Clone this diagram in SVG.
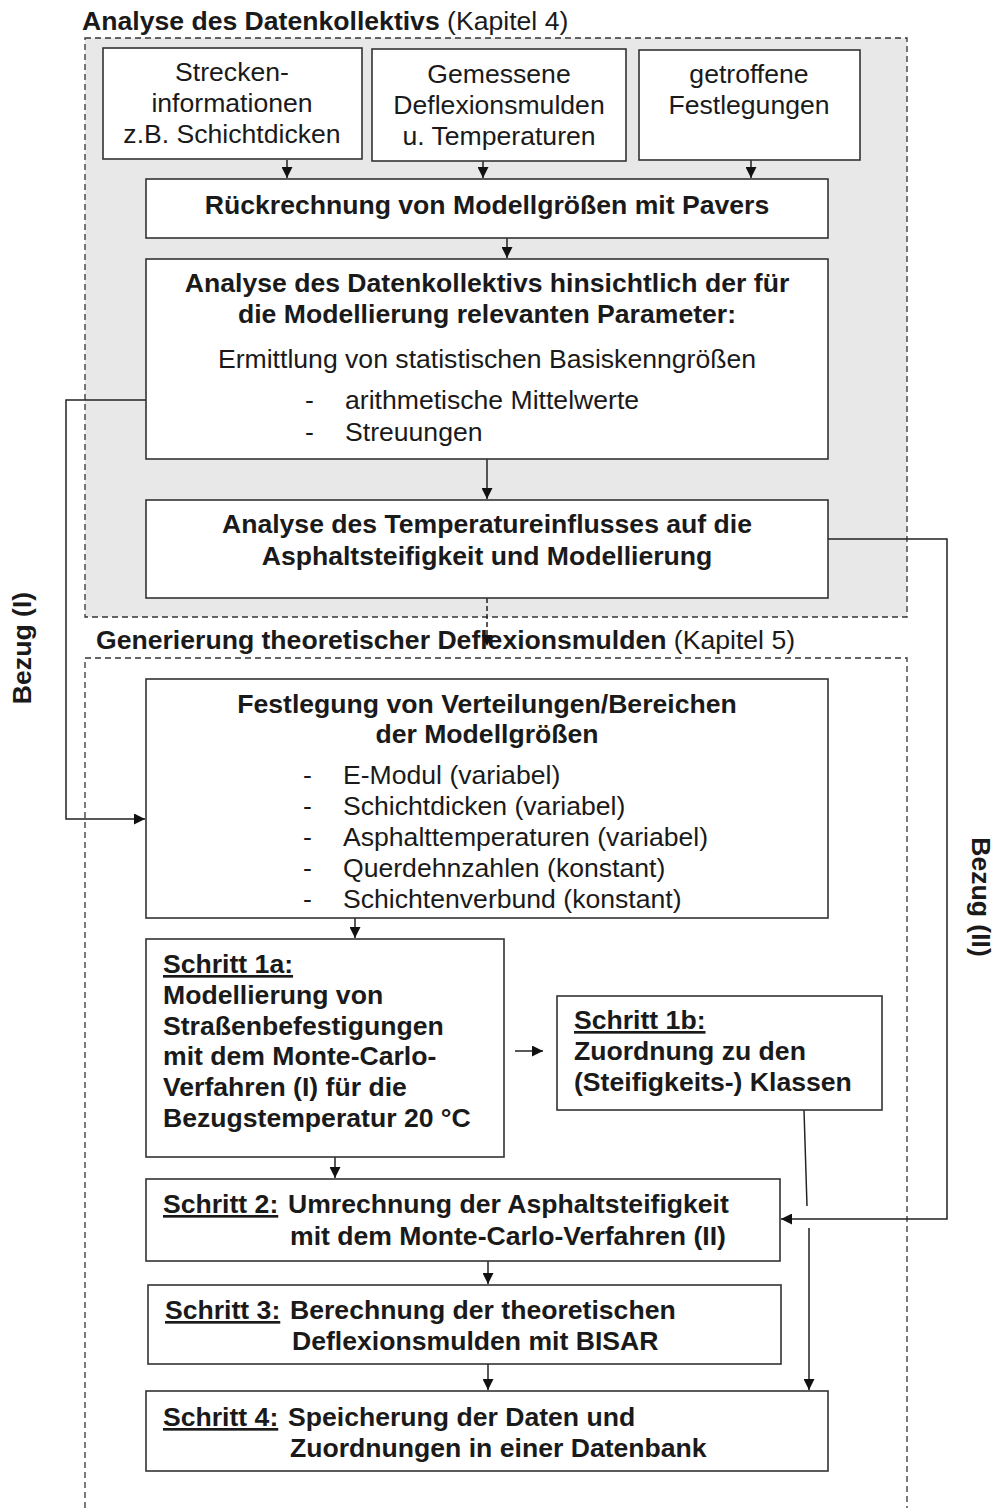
<svg xmlns="http://www.w3.org/2000/svg" width="996" height="1508" viewBox="0 0 996 1508">
  <style>
    .box { fill: #ffffff; stroke: #333333; stroke-width: 1.6; }
    .frame { fill: none; stroke: #333333; stroke-width: 1.3; stroke-dasharray: 6 4; }
    .line { fill: none; stroke: #222222; stroke-width: 1.5; }
    .t { font-family: "Liberation Sans", Arial, sans-serif; font-size: 26.6px; fill: #1a1a1a; }
    .b { font-weight: bold; }
    .m { text-anchor: middle; }
    .u { text-decoration: underline; }
  </style>
  <defs>
    <marker id="arrow" viewBox="0 0 10 10" refX="10" refY="5" markerWidth="11" markerHeight="11" markerUnits="userSpaceOnUse" orient="auto">
      <path d="M0,0 L10,5 L0,10 z" fill="#111111"/>
    </marker>
  </defs>

  <!-- chapter 4 frame -->
  <g id="frame-kapitel4">
    <rect x="85" y="38" width="822" height="579" fill="#e8e8e8" stroke="none"/>
    <rect x="85" y="38" width="822" height="579" class="frame"/>
    <text x="82" y="30" class="t"><tspan class="b">Analyse des Datenkollektivs</tspan> (Kapitel 4)</text>
  </g>

  <!-- chapter 5 frame (open at bottom) -->
  <g id="frame-kapitel5">
    <path d="M85,1508 L85,658 L907,658 L907,1508" class="frame"/>
    <text x="96" y="649" class="t"><tspan class="b">Generierung theoretischer Deflexionsmulden</tspan> (Kapitel 5)</text>
  </g>

  <!-- connectors -->
  <g id="connectors">
    <line x1="287" y1="160" x2="287" y2="178" class="line" marker-end="url(#arrow)"/>
    <line x1="483" y1="161" x2="483" y2="178" class="line" marker-end="url(#arrow)"/>
    <line x1="751" y1="160" x2="751" y2="178" class="line" marker-end="url(#arrow)"/>
    <line x1="507" y1="238" x2="507" y2="258" class="line" marker-end="url(#arrow)"/>
    <line x1="487" y1="459" x2="487" y2="499" class="line" marker-end="url(#arrow)"/>
    <line x1="487" y1="598" x2="487" y2="646" class="line" stroke-dasharray="5 3" marker-end="url(#arrow)"/>
    <!-- Bezug (I) -->
    <path d="M146,400 L66,400 L66,819 L145,819" class="line" marker-end="url(#arrow)"/>
    <!-- Bezug (II) -->
    <path d="M828,539 L947,539 L947,1219 L781,1219" class="line" marker-end="url(#arrow)"/>
    <line x1="355" y1="918" x2="355" y2="938" class="line" marker-end="url(#arrow)"/>
    <line x1="515" y1="1051" x2="543" y2="1051" class="line" marker-end="url(#arrow)"/>
    <path d="M804,1110 L807,1206" class="line"/>
    <line x1="809" y1="1228" x2="809" y2="1390" class="line" marker-end="url(#arrow)"/>
    <line x1="335" y1="1157" x2="335" y2="1178" class="line" marker-end="url(#arrow)"/>
    <line x1="488" y1="1261" x2="488" y2="1284" class="line" marker-end="url(#arrow)"/>
    <line x1="488" y1="1364" x2="488" y2="1390" class="line" marker-end="url(#arrow)"/>
  </g>

  <g id="label-bezug-1">
    <text transform="translate(31,648) rotate(-90)" class="t b m">Bezug (I)</text>
  </g>
  <g id="label-bezug-2">
    <text transform="translate(972,897) rotate(90)" class="t b m">Bezug (II)</text>
  </g>

  <g id="node-strecken">
    <rect x="103" y="48" width="259" height="111" class="box"/>
    <text class="t m"><tspan x="232" y="81">Strecken-</tspan><tspan x="232" y="112">informationen</tspan><tspan x="232" y="143">z.B. Schichtdicken</tspan></text>
  </g>
  <g id="node-deflexion">
    <rect x="372" y="49" width="254" height="112" class="box"/>
    <text class="t m"><tspan x="499" y="83">Gemessene</tspan><tspan x="499" y="114">Deflexionsmulden</tspan><tspan x="499" y="145">u. Temperaturen</tspan></text>
  </g>
  <g id="node-festlegungen">
    <rect x="639" y="50" width="221" height="110" class="box"/>
    <text class="t m"><tspan x="749" y="83">getroffene</tspan><tspan x="749" y="114">Festlegungen</tspan></text>
  </g>
  <g id="node-rueckrechnung">
    <rect x="146" y="179" width="682" height="59" class="box"/>
    <text x="487" y="214" class="t b m">Rückrechnung von Modellgrößen mit Pavers</text>
  </g>
  <g id="node-analyse">
    <rect x="146" y="259" width="682" height="200" class="box"/>
    <text class="t b m"><tspan x="487" y="292">Analyse des Datenkollektivs hinsichtlich der für</tspan><tspan x="487" y="323">die Modellierung relevanten Parameter:</tspan></text>
    <text x="487" y="368" class="t m">Ermittlung von statistischen Basiskenngrößen</text>
    <text class="t"><tspan x="305" y="409">-</tspan><tspan x="345" y="409">arithmetische Mittelwerte</tspan><tspan x="305" y="441">-</tspan><tspan x="345" y="441">Streuungen</tspan></text>
  </g>
  <g id="node-temperatur">
    <rect x="146" y="500" width="682" height="98" class="box"/>
    <text class="t b m"><tspan x="487" y="533">Analyse des Temperatureinflusses auf die</tspan><tspan x="487" y="565">Asphaltsteifigkeit und Modellierung</tspan></text>
  </g>
  <g id="node-verteilungen">
    <rect x="146" y="679" width="682" height="239" class="box"/>
    <text class="t b m"><tspan x="487" y="713">Festlegung von Verteilungen/Bereichen</tspan><tspan x="487" y="743">der Modellgrößen</tspan></text>
    <text class="t">
      <tspan x="303" y="784">-</tspan><tspan x="343" y="784">E-Modul (variabel)</tspan>
      <tspan x="303" y="815">-</tspan><tspan x="343" y="815">Schichtdicken (variabel)</tspan>
      <tspan x="303" y="846">-</tspan><tspan x="343" y="846">Asphalttemperaturen (variabel)</tspan>
      <tspan x="303" y="877">-</tspan><tspan x="343" y="877">Querdehnzahlen (konstant)</tspan>
      <tspan x="303" y="908">-</tspan><tspan x="343" y="908">Schichtenverbund (konstant)</tspan>
    </text>
  </g>
  <g id="node-schritt1a">
    <rect x="146" y="939" width="358" height="218" class="box"/>
    <text class="t b">
      <tspan x="163" y="973" class="u">Schritt 1a:</tspan>
      <tspan x="163" y="1004">Modellierung von</tspan>
      <tspan x="163" y="1035">Straßenbefestigungen</tspan>
      <tspan x="163" y="1065">mit dem Monte-Carlo-</tspan>
      <tspan x="163" y="1096">Verfahren (I) für die</tspan>
      <tspan x="163" y="1127">Bezugstemperatur 20 °C</tspan>
    </text>
  </g>
  <g id="node-schritt1b">
    <rect x="557" y="996" width="325" height="114" class="box"/>
    <text class="t b">
      <tspan x="574" y="1029" class="u">Schritt 1b:</tspan>
      <tspan x="574" y="1060">Zuordnung zu den</tspan>
      <tspan x="574" y="1091">(Steifigkeits-) Klassen</tspan>
    </text>
  </g>
  <g id="node-schritt2">
    <rect x="146" y="1179" width="634" height="82" class="box"/>
    <text class="t b"><tspan x="163" y="1213" class="u">Schritt 2:</tspan><tspan x="288" y="1213">Umrechnung der Asphaltsteifigkeit</tspan><tspan x="290" y="1245">mit dem Monte-Carlo-Verfahren (II)</tspan></text>
  </g>
  <g id="node-schritt3">
    <rect x="148" y="1285" width="633" height="79" class="box"/>
    <text class="t b"><tspan x="165" y="1319" class="u">Schritt 3:</tspan><tspan x="290" y="1319">Berechnung der theoretischen</tspan><tspan x="292" y="1350">Deflexionsmulden mit BISAR</tspan></text>
  </g>
  <g id="node-schritt4">
    <rect x="146" y="1391" width="682" height="80" class="box"/>
    <text class="t b"><tspan x="163" y="1426" class="u">Schritt 4:</tspan><tspan x="288" y="1426">Speicherung der Daten und</tspan><tspan x="290" y="1457">Zuordnungen in einer Datenbank</tspan></text>
  </g>
</svg>
